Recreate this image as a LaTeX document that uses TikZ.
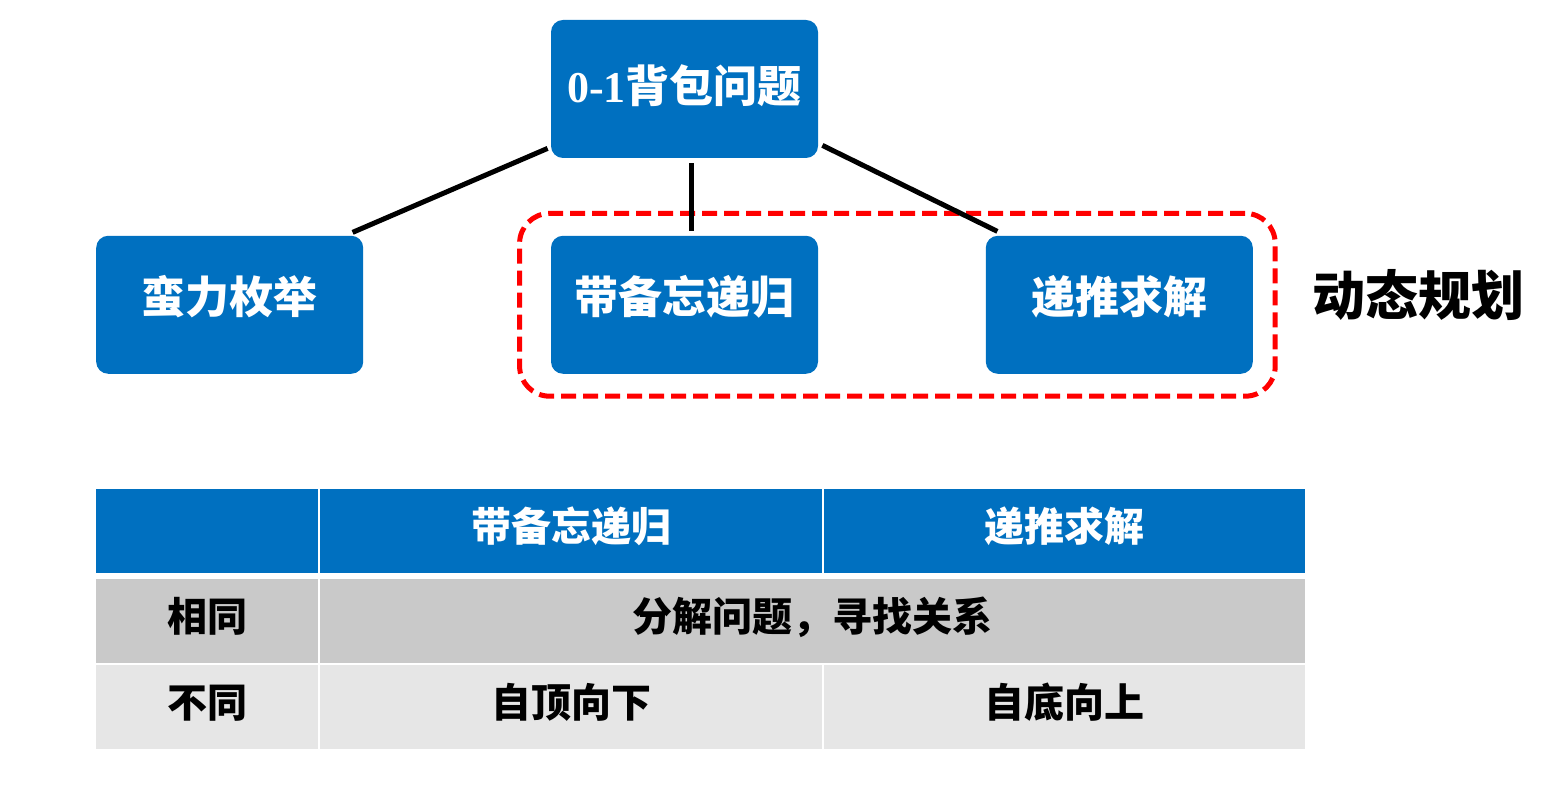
\documentclass[tikz,border=0pt]{standalone}
\usepackage{fontspec}
\setmainfont{Noto Sans CJK SC}
\newfontfamily\numfont{Liberation Serif}
\usepackage{tikz}
\usetikzlibrary{positioning,fit}
\definecolor{boxblue}{RGB}{0,112,192}
\definecolor{dpred}{RGB}{255,0,0}
\definecolor{rowdark}{RGB}{201,201,201}
\definecolor{rowlight}{RGB}{230,230,230}

\begin{document}
\begin{tikzpicture}[
    x=0.5pt, y=0.5pt,
    block/.style={rectangle, fill=boxblue, text=white, rounded corners=6pt, minimum width=133.5pt, minimum height=69pt, inner sep=0pt, text height=19pt, text depth=10pt, font=\fontsize{22}{26}\selectfont\bfseries},
    link/.style={line width=2.5pt, black},
    dpbox/.style={draw=dpred, line width=2.5pt, dash pattern=on 7.5pt off 3.5pt, rounded corners=15pt, inner xsep=11pt, inner ysep=11pt},
    cell/.style={rectangle, inner sep=0pt, outer sep=0pt, minimum height=42pt, text height=17.5pt, text depth=6.5pt, font=\fontsize{20}{24}\selectfont\bfseries},
    headcell/.style={cell, fill=boxblue, text=white},
    samerow/.style={cell, fill=rowdark},
    diffrow/.style={cell, fill=rowlight},
]
    \useasboundingbox (0,0) rectangle (1556,785);

    \node[block, text depth=5pt] (knap) at (684.5,696) {{\numfont 0-1}背包问题};

    \node[block, below=38.5pt of knap] (memo) {带备忘递归};

    \node[block, left=93.5pt of memo] (brute) {蛮力枚举};

    \node[block, right=83.5pt of memo] (bottomup) {递推求解};

    \coordinate (dpleft) at ([xshift=-4.5pt]memo.west);
    \node[dpbox, fit=(dpleft)(bottomup)] (dp) {};

    \node[right=17pt of dp, yshift=5pt, inner sep=0pt, font=\fontsize{26.5}{30}\selectfont\bfseries] (dplabel) {动态规划};

    \draw[link] ([shift={(-3,10)}]knap.south west) -- ([shift={(-11,3)}]brute.north east);
    \draw[link] ([shift={(7,-5)}]knap.south) -- ([shift={(7,4)}]memo.north);
    \draw[link] ([shift={(4,13)}]knap.south east) -- ([shift={(12,4)}]bottomup.north west);

    \node[headcell, minimum width=111pt, anchor=north west] (corner) at (96,296) {};
    \node[headcell, minimum width=251pt, right=1pt of corner] (hmemo) {带备忘递归};
    \node[headcell, minimum width=240.5pt, right=1pt of hmemo] (hrec) {递推求解};

    \node[samerow, minimum width=111pt, below=3pt of corner] (same) {相同};
    \node[samerow, minimum width=492.5pt, anchor=north west] (samebody) at ([yshift=-3pt]hmemo.south west) {分解问题，寻找关系};

    \node[diffrow, minimum width=111pt, below=1pt of same] (diff) {不同};
    \node[diffrow, minimum width=251pt, anchor=north west] (topdown) at ([yshift=-1pt]samebody.south west) {自顶向下};
    \node[diffrow, minimum width=240.5pt, right=1pt of topdown] (bottomupcell) {自底向上};
\end{tikzpicture}
\end{document}
